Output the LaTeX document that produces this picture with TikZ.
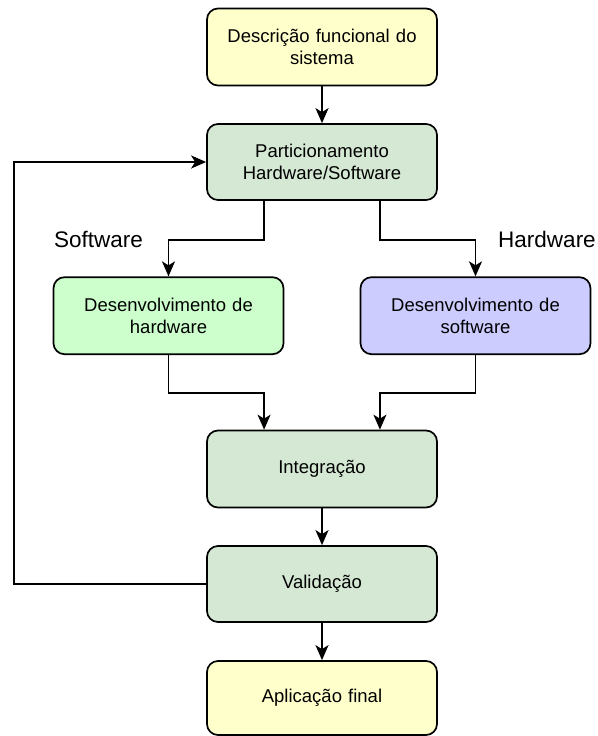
\documentclass[tikz,border=0pt]{standalone}
\usepackage{fontspec}
\setmainfont{Liberation Sans}
\usetikzlibrary{arrows.meta,calc}
\definecolor{paleyellow}{HTML}{FFFFCC}
\definecolor{sage}{HTML}{D5E8D4}
\definecolor{mint}{HTML}{CCFFCC}
\definecolor{lavender}{HTML}{CCCCFF}
\begin{document}
\begin{tikzpicture}[x=1pt,y=-1pt,
  block/.style={draw=black, line width=1.7pt, rounded corners=11pt,
    minimum width=230pt, minimum height=77pt, align=center,
    font=\fontsize{18.5}{21.7}\selectfont, inner sep=0pt, text width=215pt},
  flow/.style={line width=1.8pt, -{Stealth[length=15pt,width=13pt,inset=4pt]}},
  tag/.style={font=\fontsize{22.5}{26}\selectfont, inner sep=0pt}]
  \useasboundingbox (0,0) rectangle (597,736);

  % process blocks
  \node[block, fill=paleyellow] (desc) at (322,47) {Descrição funcional do\\sistema};
  \node[block, fill=sage, minimum height=76pt] (part) at (322,162) {Particionamento\\Hardware/Software};
  \node[block, fill=mint] (hw) at (168.5,315.7) {Desenvolvimento de\\hardware};
  \node[block, fill=lavender] (sw) at (475.5,315.7) {Desenvolvimento de\\software};
  \node[block, fill=sage] (integ) at (322,469) {Integração};
  \node[block, fill=sage, minimum height=76pt] (valid) at (322,584) {Validação};
  \node[block, fill=paleyellow, minimum height=74pt] (final) at (322,698) {Aplicação final};

  % branch labels
  \node[tag] (lsw) at (98.5,239) {Software};
  \node[tag] (lhw) at (547,239) {Hardware};

  % connection points along block edges
  \coordinate (pl) at ($(part.south west)!.25!(part.south east)$);
  \coordinate (pr) at ($(part.south west)!.75!(part.south east)$);
  \coordinate (il) at ($(integ.north west)!.25!(integ.north east)$);
  \coordinate (ir) at ($(integ.north west)!.75!(integ.north east)$);

  % connectors
  \draw[flow] (desc) -- (part);
  \draw[flow] (pl) -- ++(0,39) -| (hw.north);
  \draw[flow] (pr) -- ++(0,39) -| (sw.north);
  \draw[flow] (hw.south) -- ++(0,38) -| (il);
  \draw[flow] (sw.south) -- ++(0,38) -| (ir);
  \draw[flow] (integ) -- (valid);
  \draw[flow] (valid) -- (final);
  \draw[flow] (valid.west) -- ++(-192.5,0) |- (part.west);
\end{tikzpicture}
\end{document}
